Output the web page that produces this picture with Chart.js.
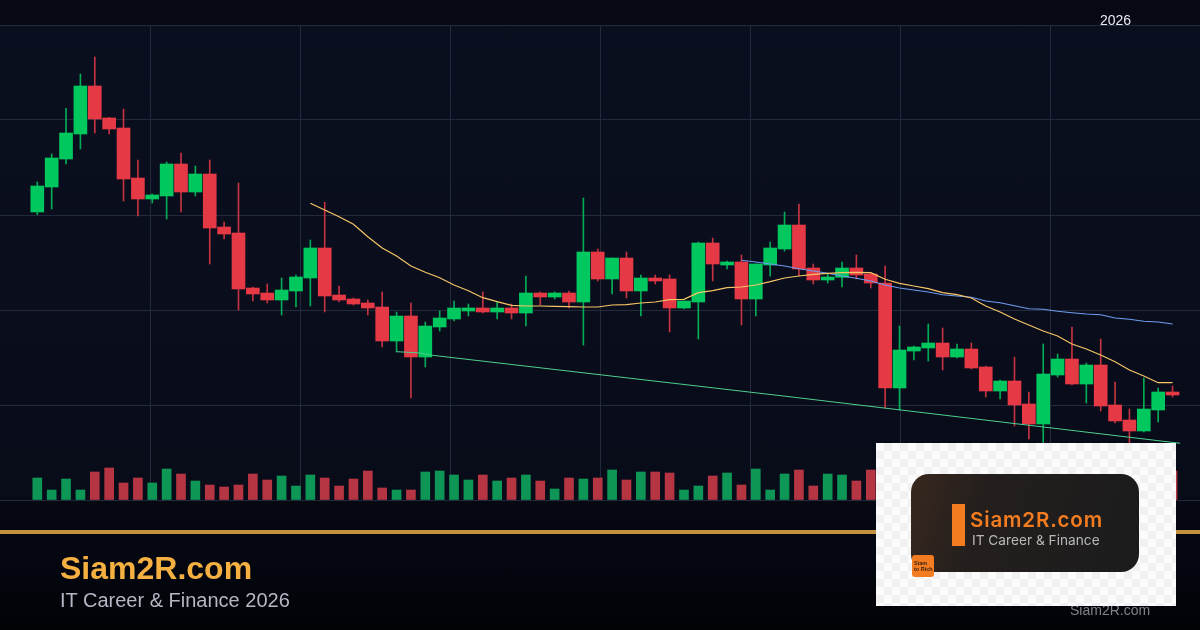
<!DOCTYPE html>
<html>
<head>
<meta charset="utf-8">
<script src="https://cdn.jsdelivr.net/npm/chart.js@4/dist/chart.umd.min.js"></script>
<style>
html,body{margin:0;padding:0;width:1200px;height:630px;overflow:hidden;background:#000;}
#wrap{position:relative;width:1200px;height:630px;overflow:hidden;font-family:"Liberation Sans",Arial,sans-serif;
 background:linear-gradient(180deg,#060912 0px,#070a14 25px,#0a0f1f 26px,#090d1c 300px,#080b18 499px,#060812 501px,#050710 530px,#040610 560px,#020306 630px);}
#c{position:absolute;left:0;top:0;}
.t{position:absolute;white-space:nowrap;line-height:1;}
#rule{position:absolute;left:0;top:530px;width:1200px;height:4px;background:#c4923f;}
#logo{position:absolute;left:876px;top:443px;width:300px;height:163px;background-color:#fcfcfc;
 background-image:repeating-conic-gradient(#f1f1f1 0 25%,#fcfcfc 0 50%);background-size:16px 16px;}
#pill{position:absolute;left:35px;top:31px;width:228px;height:98px;border-radius:18px;
 background:linear-gradient(105deg,#38281e 0%,#241f1d 30%,#1b1b1c 100%);}
#bar{position:absolute;left:76px;top:61px;width:13px;height:42px;background:#f47c20;}
#badge{position:absolute;left:36px;top:112px;width:22px;height:22px;border-radius:3px;background:#f47c20;color:#3a2410;font-size:5.5px;font-weight:bold;line-height:6px;padding:5px 0 0 2px;box-sizing:border-box;}
</style>
</head>
<body>
<div id="wrap">
 <canvas id="c" width="1200" height="630"></canvas>
 <div id="rule"></div>
 <div class="t" style="left:60px;top:552px;font-size:32px;font-weight:bold;color:#f5b041;">Siam2R.com</div>
 <div class="t" style="left:60px;top:590px;font-size:20px;color:#b4b8c4;">IT Career &amp; Finance 2026</div>
 <div class="t" style="left:1100px;top:13px;font-size:14px;color:#e8eaf0;">2026</div>
 <div class="t" style="left:1070px;top:603px;font-size:14px;color:#7f828a;">Siam2R.com</div>
 <div id="logo">
  <div id="pill"></div>
  <div id="bar"></div>
  <div class="t" style="left:94px;top:67px;font-size:20.5px;font-weight:600;font-family:Inter,sans-serif;color:#f47c20;letter-spacing:0.85px;">Siam2R.com</div>
  <div class="t" style="left:96px;top:91px;font-size:13.7px;font-family:Inter,sans-serif;color:#b8b8b8;">IT Career &amp; Finance</div>
  <div id="badge">Siam<br>to Rich</div>
 </div>
</div>
<script>
const opens =[288,313,341,366,414,382,372,322,301,304,336,308,326,273,267,212,207,200,209,222,252,205,201,197,193,159,184,143,173,181,189,192,188,192,187,207,203,207,198,248,221,242,209,222,221,192,198,257,235,238,201,235,251,275,232,220,222.7,232,226,217,112,149,152,157,143,151,133,109,119,96,76,125,141,116,135,95,80,69,90,108];
const closes=[314,342,367,414,381,371,321,301,305,336,308,326,272,266,211,206,200,210,223,252,204,200,196,192,159,184,143,174,182,192,192,188,192,187,207,203,207,198,248,221,242,209,222,219,192,199,257,236,238,201,236,252,275,231,220,223,232,225,217,112,150,153,157,143,151,132,109,119,95,76,126,141,116,135,94,79,69,91,108,105];
const highs =[318,346,391.7,426,443,382.7,391,340,306,338,347,334,340,278,317,213,216,222,225,260,297.7,214,202,200,208,188,197,178,189,199,196,208,198,196,224,208,208,209,302,251,242,248,225,225,225,199,258,262,239,245,236,258,288,296,236,226,238,245,226.7,234,174,154,176,172,156,157,134,120,143,108,156,146,173,137,161,118,91,122,112,114];
const lows  =[285.3,291,336,351,367,366,299,284,297,281,288,304,236,261,190,199,197,185,193,194,188,198,195,185,153,148,102,133,169,179,184,187,181,181,174,195,201,192,155,219,206,202,184,216,168,191,161,219,231,175,184,224,249,224,216,217,213,221,212,92,90,140,139,130,142,131,103,101,74,61,40,123,115,97,89,77,57,68,78,103];
const volumes=[22,10,21,10,28,32,17,22,17,31,26,19,15,13,15,26,20,24,14,25,22,14,21,29,12,10,10,28,29,25,20,25,19,22,25,19,11,22,21,22,30,20,28,28,27,10,14,24,27,15,31,10,26,30,14,26,25,19,30,28,24,12,14,18,13,16,19,12,20,23,30,20,25,18,27,22,14,17,21,29];
const maFastStart=19;
const maFast=[296.7,290,283.3,275.7,263.3,252,244,234,227.7,222.3,215,209.3,202.3,198.3,194.7,194,194,193.7,193.3,193,193,195,195.3,197,198,200.3,200.7,207.3,209.3,212.3,213,215,218.3,222,224,225.7,226.7,227.3,227.7,227.3,220.7,216.7,214,211.3,207.3,205.3,202,194,188,181,175,169,164,156,151,145,138.3,130,124,117.3,117.3];
const maSlowStart=49;
const maSlow=[239.7,238,236,234,231.3,229,226.7,224,221.7,219,215,212,210,208,205.3,204,202.7,199,197.3,194.3,191.3,190.7,188.7,187.3,186,185.3,182,180.7,178.7,178,176];
const trendX=[25,26.5,27.5,52.1,79.53];
const trendY=[148.3,147.2,144.7,103.7,56.7];
const timeGrid=[7.88,18.32,28.76,39.2,49.64,60.07,70.51];
const indexMin=-2.596, indexMax=80.91;

const GREEN='#00c85f', RED='#e63946', GREEN_V='#0d9655', RED_V='#b53543';
const WICK_G='rgba(0,200,95,0.85)', WICK_R='rgba(230,57,70,0.85)';
const up=i=>closes[i]>=opens[i];
const idx=opens.map((_,i)=>i);
const colorBy=(g,r)=>ctx=>up(ctx.dataIndex)?g:r;

new Chart(document.getElementById('c'),{
 type:'bar',
 data:{datasets:[
  {type:'line',label:'trend',data:trendX.map((x,i)=>({x,y:trendY[i]})),borderColor:'#4fcf8e',borderWidth:1,pointRadius:0,tension:0,order:1},
  {type:'line',label:'slow',data:maSlow.map((y,i)=>({x:i+maSlowStart,y})),borderColor:'#6f9df0',borderWidth:1.1,pointRadius:0,tension:0,order:2},
  {type:'line',label:'fast',data:maFast.map((y,i)=>({x:i+maFastStart,y})),borderColor:'#f7c566',borderWidth:1.2,pointRadius:0,tension:0,order:1},
  {label:'body',data:idx.map(i=>({x:i,y:[opens[i],closes[i]]})),backgroundColor:colorBy(GREEN,RED),barThickness:13,grouped:false,order:4},
  {label:'wick',data:idx.map(i=>({x:i,y:[lows[i],highs[i]]})),backgroundColor:colorBy(WICK_G,WICK_R),barThickness:1,grouped:false,order:5},
  {label:'volume',data:idx.map(i=>({x:i,y:volumes[i]})),backgroundColor:colorBy(GREEN_V,RED_V),barThickness:9,grouped:false,order:6}
 ]},
 options:{
  responsive:false,animation:false,
  layout:{padding:{left:0,right:0,top:25,bottom:130}},
  plugins:{legend:{display:false},tooltip:{enabled:false},title:{display:false}},
  scales:{
   x:{type:'linear',min:indexMin,max:indexMax,offset:false,
      afterBuildTicks:s=>{s.ticks=timeGrid.map(value=>({value}));},
      grid:{color:'#232a3c',lineWidth:1,drawTicks:false,offset:false},
      border:{display:false},ticks:{display:false,padding:0}},
   y:{type:'linear',min:0,max:475,
      ticks:{stepSize:95,display:false,padding:0},
      grid:{color:'#232a3c',lineWidth:1,drawTicks:false},
      border:{display:false}}
  }
 }
});
</script>
</body>
</html>
